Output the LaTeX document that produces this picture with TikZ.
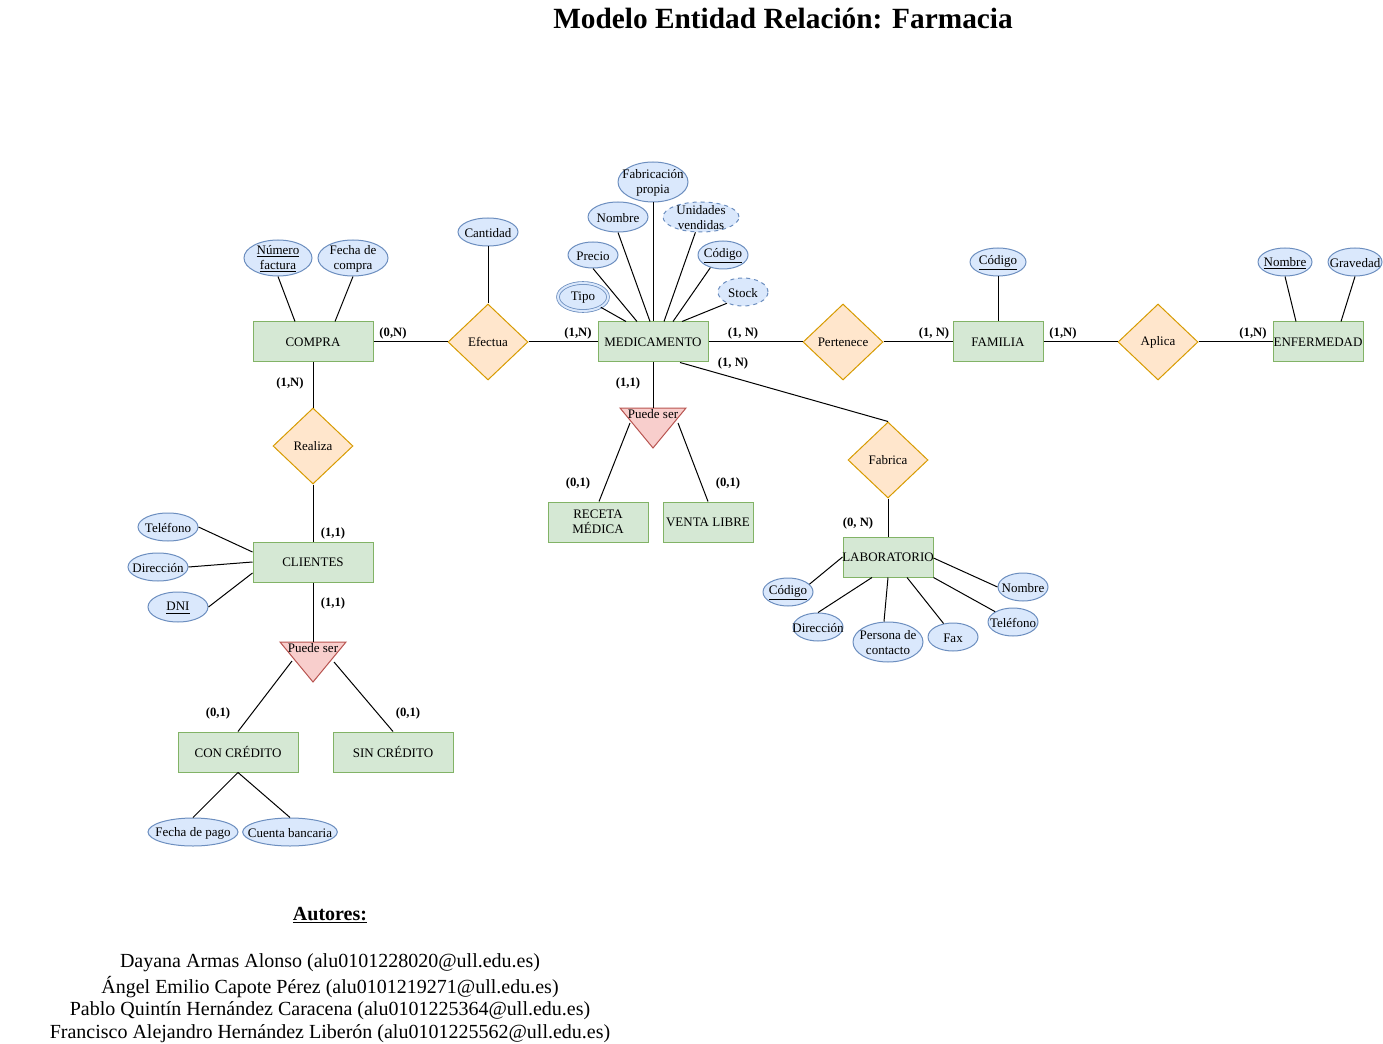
\documentclass[tikz,border=0pt]{standalone}
\usepackage{fontspec}
\setmainfont{Liberation Serif}
\usetikzlibrary{shapes.geometric,calc}
\definecolor{entF}{HTML}{D5E8D4}
\definecolor{entD}{HTML}{82B366}
\definecolor{relF}{HTML}{FFE6CC}
\definecolor{relD}{HTML}{D79B00}
\definecolor{attF}{HTML}{DAE8FC}
\definecolor{attD}{HTML}{6C8EBF}
\definecolor{triF}{HTML}{F8CECC}
\definecolor{triD}{HTML}{B85450}
\newcommand{\Attr}[6][]{\node[attr,minimum width=#4,minimum height=#5,#1,label={[txt]center:{#6}}] (#2) at (#3) {};}
\begin{document}
\begin{tikzpicture}[x=0.75pt,y=-0.75pt,
  font=\fontsize{9.75}{11.25}\selectfont,
  entity/.style={draw=entD,fill=entF,line width=0.75pt,minimum height=30pt,inner sep=0pt,align=center},
  rel/.style={diamond,draw=relD,fill=relF,line width=0.75pt,minimum width=60pt,minimum height=57pt,inner sep=0pt},
  attr/.style={ellipse,draw=attD,fill=attF,line width=0.75pt,inner sep=0pt},
  txt/.style={align=center,inner sep=0pt,yshift=-0.75pt},
  tri/.style={draw=triD,fill=triF,line width=0.75pt},
  card/.style={font=\fontsize{9.5}{11}\selectfont\bfseries,inner sep=0pt},
  big/.style={font=\fontsize{15}{18}\selectfont},
  bigbold/.style={font=\fontsize{15}{18}\selectfont\bfseries},
  conn/.style={line width=0.75pt}]
\useasboundingbox (0,0) rectangle (1383,1044);

% title
\node[font=\fontsize{22}{26}\selectfont\bfseries] (title) at (783,19) {Modelo Entidad Relación: Farmacia};

% entities
\node[entity,minimum width=90pt] (compra) at (313,342) {COMPRA};
\node[entity,minimum width=82.5pt] (med) at (653,342) {MEDICAMENTO};
\node[entity,minimum width=67.5pt] (fam) at (998,342) {FAMILIA};
\node[entity,minimum width=67.5pt] (enf) at (1318,342) {ENFERMEDAD};
\node[entity,minimum width=90pt] (cli) at (313,562) {CLIENTES};
\node[entity,minimum width=75pt] (rec) at (598,522) {RECETA\\MÉDICA};
\node[entity,minimum width=67.5pt] (vl) at (708,522) {VENTA LIBRE};
\node[entity,minimum width=67.5pt] (lab) at (888,557) {\makebox[60pt]{LABORATORIO}};
\node[entity,minimum width=90pt] (con) at (238,752) {CON CRÉDITO};
\node[entity,minimum width=90pt] (sin) at (393,752) {SIN CRÉDITO};

% relations
\node[rel] (efe) at (488,342) {Efectua};
\node[rel] (per) at (843,342) {Pertenece};
\node[rel] (apl) at (1158,342) {Aplica};
\node[rel] (real) at (313,446) {Realiza};
\node[rel] (fabr) at (888,460) {Fabrica};

% specialisation triangles
\draw[tri] (620,408) -- (686,408) -- (653,448) -- cycle;
\coordinate (ps1top) at (653,408);
\coordinate (ps1l) at (630,423);
\coordinate (ps1r) at (678,423);
\node[inner sep=0pt] (ps1) at (653,414) {Puede ser};
\draw[tri] (280,642) -- (346,642) -- (313,682) -- cycle;
\coordinate (ps2top) at (313,642);
\coordinate (ps2l) at (292,661);
\coordinate (ps2r) at (334,662);
\node[inner sep=0pt] (ps2) at (313,648) {Puede ser};

% attributes
\Attr{nf}{278,258}{51pt}{27pt}{\underline{Número}\\\underline{factura}}
\Attr{fc}{353,258}{52.5pt}{27pt}{Fecha de\\compra}
\Attr{cant}{488,232}{45pt}{21pt}{Cantidad}
\Attr{fab}{653,182}{52.5pt}{30pt}{Fabricación\\propia}
\Attr{nom}{618,217}{45pt}{22.5pt}{Nombre}
\Attr[dashed]{uv}{701,217}{57pt}{22.5pt}{Unidades\\vendidas}
\Attr{pre}{593,255}{37.5pt}{19.5pt}{Precio}
\Attr{codm}{723,255}{37.5pt}{21pt}{\underline{Código}}
\Attr[double=attF,double distance=1.5pt,line width=0.6pt]{tipo}{583,297}{37.5pt}{21pt}{Tipo}
\Attr[dashed]{stock}{743,292}{37.5pt}{21pt}{Stock}
\Attr{codf}{998,262}{42pt}{21pt}{\underline{Código}}
\Attr{nome}{1285,262}{40.5pt}{21pt}{\underline{Nombre}}
\Attr{grav}{1355,262}{40.5pt}{21pt}{Gravedad}
\Attr{telc}{168,527}{45pt}{21pt}{Teléfono}
\Attr{dirc}{158,567}{45pt}{21pt}{Dirección}
\Attr{dni}{178,607}{45pt}{22.5pt}{\underline{DNI}}
\Attr{fpago}{193,832}{67.5pt}{21pt}{Fecha de pago}
\Attr{cban}{290,832}{71pt}{21pt}{Cuenta bancaria}
\Attr{codl}{788,592}{37.5pt}{21pt}{\underline{Código}}
\Attr{dirl}{818,627}{37.5pt}{21pt}{Dirección}
\Attr{pers}{888,642}{52.5pt}{30pt}{Persona de\\contacto}
\Attr{fax}{953,637}{37.5pt}{21pt}{Fax}
\Attr{tell}{1013,622}{37.5pt}{21pt}{Teléfono}
\Attr{noml}{1023,587}{37.5pt}{21pt}{Nombre}

% connectors: main row
\draw[conn] (compra.east) -- (efe.west);
\draw[conn] (efe.east) -- (med.west);
\draw[conn] (med.east) -- (per.west);
\draw[conn] (per.east) -- (fam.west);
\draw[conn] (fam.east) -- (apl.west);
\draw[conn] (apl.east) -- (enf.west);
\draw[conn] (cant.south) -- (efe.north);
% compra attributes
\draw[conn] (nf.south) -- ($(compra.north)+(-18,0)$);
\draw[conn] (fc.south) -- ($(compra.north)+(22,0)$);
% medicamento attributes
\draw[conn] (fab.south) -- (med.north);
\draw[conn] (nom.south) -- ($(med.north)+(-3,0)$);
\draw[conn] (pre.south) -- ($(med.north)+(-16,0)$);
\draw[conn] (tipo.-30) -- ($(med.north)+(-27,0)$);
\draw[conn] (uv.-110) -- ($(med.north)+(11,0)$);
\draw[conn] (codm.-135) -- ($(med.north)+(20,0)$);
\draw[conn] (stock.-145) -- ($(med.north)+(29,0)$);
% familia / enfermedad
\draw[conn] (codf.south) -- (fam.north);
\draw[conn] (nome.south) -- ($(enf.north)+(-22,0)$);
\draw[conn] (grav.south) -- ($(enf.north)+(23,0)$);
% medicamento below
\draw[conn] (med.south) -- (ps1top);
\draw[conn] (ps1l) -- ($(rec.north)+(1,0)$);
\draw[conn] (ps1r) -- (vl.north);
\draw[conn] ($(med.south)+(27,0)$) -- (fabr.north);
\draw[conn] (fabr.south) -- (lab.north);
% laboratorio attributes
\draw[conn] (codl.20) -- (lab.west);
\draw[conn] ($(lab.south)+(-16,0)$) -- (dirl.north);
\draw[conn] (lab.south) -- ($(pers.north)+(-4,0)$);
\draw[conn] ($(lab.south)+(19,0)$) -- (fax.125);
\draw[conn] (lab.south east) -- (tell.150);
\draw[conn] ($(lab.east)+(0,1)$) -- (noml.west);
% compra / clientes
\draw[conn] (compra.south) -- (real.north);
\draw[conn] (real.south) -- (cli.north);
\draw[conn] (telc.east) -- ($(cli.west)+(0,-10)$);
\draw[conn] (dirc.east) -- (cli.west);
\draw[conn] (dni.east) -- ($(cli.west)+(0,11)$);
\draw[conn] (cli.south) -- (ps2top);
\draw[conn] (ps2l) -- (con.north);
\draw[conn] (ps2r) -- (sin.north);
\draw[conn] (con.south) -- (fpago.north);
\draw[conn] (con.south) -- (cban.north);

% cardinalities
\node[card] (c1) at (393,333) {(0,N)};
\node[card] (c2) at (578,333) {(1,N)};
\node[card] (c3) at (743,333) {(1, N)};
\node[card] (c4) at (934,333) {(1, N)};
\node[card] (c5) at (1063,333) {(1,N)};
\node[card] (c6) at (1253,333) {(1,N)};
\node[card] (c7) at (733,363) {(1, N)};
\node[card] (c8) at (628,383) {(1,1)};
\node[card] (c9) at (578,483) {(0,1)};
\node[card] (c10) at (728,483) {(0,1)};
\node[card] (c11) at (858,523) {(0, N)};
\node[card] (c12) at (290,383) {(1,N)};
\node[card] (c13) at (333,533) {(1,1)};
\node[card] (c14) at (333,603) {(1,1)};
\node[card] (c15) at (218,713) {(0,1)};
\node[card] (c16) at (408,713) {(0,1)};

% authors
\node[bigbold] (aut) at (330,915) {\underline{Autores:}};
\node[big] (a1) at (330,963) {Dayana Armas Alonso (alu0101228020@ull.edu.es)};
\node[big] (a2) at (330,987) {Ángel Emilio Capote Pérez (alu0101219271@ull.edu.es)};
\node[big] (a3) at (330,1011) {Pablo Quintín Hernández Caracena (alu0101225364@ull.edu.es)};
\node[big] (a4) at (330,1034) {Francisco Alejandro Hernández Liberón (alu0101225562@ull.edu.es)};
\end{tikzpicture}
\end{document}
